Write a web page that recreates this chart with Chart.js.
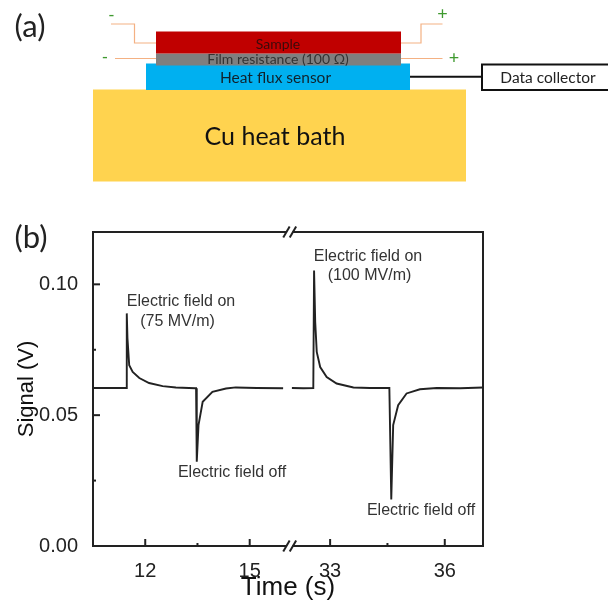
<!DOCTYPE html>
<html><head><meta charset="utf-8">
<style>html,body{margin:0;padding:0;background:#fff}canvas{display:block}</style>
<script src="https://cdn.jsdelivr.net/npm/chart.js@4"></script>
</head><body><canvas id="c" width="608" height="603"></canvas>
<script>
const timeFirst = [10.5,11.0,11.45,11.47,11.49,11.54,11.64,11.83,12.11,12.5,12.88,13.44,13.46,13.48,13.53,13.65,13.93,14.32,14.6,15.2,15.96];
const signalFirst = [.0604,.0604,.0604,.0889,.0794,.0691,.0665,.0642,.0623,.0611,.0606,.0603,.0603,.0322,.0462,.0551,.0589,.0602,.0606,.0604,.0603];
const timeSecond = [32.0,32.3,32.56,32.58,32.61,32.65,32.74,32.91,33.17,33.61,34.04,34.55,34.56,34.6,34.65,34.78,35.0,35.35,35.79,36.4,37.0];
const signalSecond = [.0604,.0603,.0604,.1053,.0856,.0742,.0684,.0646,.0621,.0606,.0604,.0604,.0604,.0178,.0462,.0538,.0583,.0599,.0604,.0603,.0606];
const xTicks = [12,13.5,15,33,34.5,36];
const xLabelled = [12,15,33,36];
const yTicks = [0,.025,.05,.075,.1];
const yLabelled = [0,.05,.1];
const xTitle = 'Time (s)';
const yTitle = 'Signal (V)';
const panelLabels = ['(a)','(b)'];
const noteOn75 = ['Electric field on','(75 MV/m)'];
const noteOn100 = ['Electric field on','(100 MV/m)'];
const noteOff = 'Electric field off';
const layerLabels = ['Sample','Film resistance (100 Ω)','Heat flux sensor','Cu heat bath','Data collector'];

const INK='#222', TXT='#333';
const BR_A=16.1, BR_B=32, D_A=.5, D_B=.51;

class BrokenScale extends Chart.LinearScale {
  static id='broken';
  static defaults=Chart.LinearScale.defaults;
  getPixelForValue(v){
    if(v===null||isNaN(v))return NaN;
    let d;
    if(v<=BR_A) d=(v-this.min)/(BR_A-this.min)*D_A;
    else if(v>=BR_B) d=D_B+(v-BR_B)/(this.max-BR_B)*(1-D_B);
    else d=D_A+(v-BR_A)/(BR_B-BR_A)*(D_B-D_A);
    return this.getPixelForDecimal(d);
  }
}
Chart.register(BrokenScale);

const zip=(a,b)=>a.map((x,i)=>({x,y:b[i]}));

function text(ctx,s,x,y,font,color,align){
  ctx.font=font;ctx.fillStyle=color;ctx.textAlign=align||'center';ctx.textBaseline='middle';ctx.fillText(s,x,y);
}
function wire(ctx,pts,color){
  ctx.strokeStyle=color;ctx.lineWidth=1.2;ctx.beginPath();
  pts.forEach((p,i)=>i?ctx.lineTo(p[0],p[1]):ctx.moveTo(p[0],p[1]));ctx.stroke();
}
const schematic={id:'schematic',beforeDraw(chart){
  const c=chart.ctx;c.save();
  c.fillStyle='#FFD34F';c.fillRect(93,89.5,373,92);
  c.fillStyle='#00B0F0';c.fillRect(146,63.5,264,26.5);
  c.fillStyle='#7F7F7F';c.fillRect(156,53.5,245,12);
  c.fillStyle='#C00000';c.fillRect(156,31.5,245,22);
  const w='#F4B183';
  wire(c,[[111,24],[134.5,24],[134.5,43],[156,43]],w);
  wire(c,[[401,43],[421,43],[421,24],[442.5,24]],w);
  wire(c,[[115,58.5],[156,58.5]],w);
  wire(c,[[401,58.5],[442.5,58.5]],w);
  c.strokeStyle='#111';c.lineWidth=2;
  c.beginPath();c.moveTo(410,76.7);c.lineTo(482,76.7);c.stroke();
  c.strokeRect(482,64.5,130,25.5);
  const g='#3f9a2f', F='Lato, "Open Sans", sans-serif';
  text(c,'-',111.5,16,'17px '+F,g);
  text(c,'+',442.5,14,'18px '+F,g);
  text(c,'-',105,58,'17px '+F,g);
  text(c,'+',454,58,'18px '+F,g);
  text(c,layerLabels[0],278,44,'14px '+F,'#3a0a0a');
  text(c,layerLabels[1],278,59.5,'14px '+F,'#333');
  text(c,layerLabels[2],275.5,77.5,'15.5px '+F,'#10222c');
  text(c,layerLabels[3],275,136.5,'25px '+F,'#111');
  text(c,layerLabels[4],548,77.5,'15.5px '+F,'#222');
  text(c,panelLabels[0],30,27,'31px '+F,'#222');
  text(c,panelLabels[1],31,238,'31px '+F,'#222');
  c.restore();
}};
const frame={id:'frame',afterDatasetsDraw(chart){
  const c=chart.ctx,a=chart.chartArea,sx=chart.scales.x,sy=chart.scales.y;
  c.save();c.strokeStyle=INK;c.lineWidth=2;c.lineCap='butt';
  c.strokeRect(a.left,a.top,a.right-a.left,a.bottom-a.top);
  xTicks.forEach(v=>{const p=sx.getPixelForValue(v),l=xLabelled.includes(v)?7:3;
    c.beginPath();c.moveTo(p,a.bottom);c.lineTo(p,a.bottom-l);c.stroke();});
  yTicks.forEach(v=>{if(v===0)return;const p=sy.getPixelForValue(v),l=yLabelled.includes(v)?7:3;
    c.beginPath();c.moveTo(a.left,p);c.lineTo(a.left+l,p);c.stroke();});
  const bx=(sx.getPixelForValue(BR_A)+sx.getPixelForValue(BR_B))/2;
  [a.top,a.bottom].forEach(y=>{
    c.fillStyle='#fff';c.fillRect(bx-3.5,y-1.5,6,3);
    [-3.5,3].forEach(o=>{c.beginPath();c.moveTo(bx+o-3.2,y+5.5);c.lineTo(bx+o+3.2,y-5.5);c.stroke();});
  });
  const N='16px "Liberation Sans", Arial, sans-serif';
  text(c,noteOn75[0],181,301.5,N,TXT);
  text(c,noteOn75[1],177.5,321.5,N,TXT);
  text(c,noteOn100[0],368,256.5,N,TXT);
  text(c,noteOn100[1],369.5,275.5,N,TXT);
  text(c,noteOff,232,473,N,TXT);
  text(c,noteOff,421,510.5,N,TXT);
  c.restore();
}};
const line={borderColor:INK,borderWidth:1.9,pointRadius:0,showLine:true,tension:0,fill:false,borderJoinStyle:'miter'};
new Chart(document.getElementById('c'),{
  type:'scatter',
  data:{datasets:[
    Object.assign({data:zip(timeFirst,signalFirst)},line),
    Object.assign({data:zip(timeSecond,signalSecond)},line)
  ]},
  plugins:[schematic,frame],
  options:{
    responsive:false,animation:false,devicePixelRatio:1,
    layout:{padding:{top:232,right:125,left:0,bottom:0}},
    plugins:{legend:{display:false},tooltip:{enabled:false}},
    scales:{
      x:{type:'broken',axis:'x',min:10.5,max:37,
        afterFit(s){s.height=57;},
        afterBuildTicks(s){s.ticks=xTicks.map(value=>({value}));},
        grid:{display:false},border:{display:false},
        ticks:{autoSkip:false,maxRotation:0,padding:5,color:INK,font:{size:20,family:'"Liberation Sans", Arial, sans-serif'},
          callback:v=>xLabelled.includes(v)?String(v):''},
        title:{display:true,text:xTitle,color:'#111',padding:{top:0,bottom:0},font:{size:26,family:'"Liberation Sans", Arial, sans-serif'}}
      },
      y:{type:'linear',min:0,max:.12,
        afterFit(s){s.width=93;},
        afterBuildTicks(s){s.ticks=yTicks.map(value=>({value}));},
        grid:{display:false},border:{display:false},
        ticks:{autoSkip:false,padding:7,color:INK,font:{size:20,family:'"Liberation Sans", Arial, sans-serif'},
          callback:v=>yLabelled.includes(v)?v.toFixed(2):''},
        title:{display:true,text:yTitle,color:'#111',padding:{top:14,bottom:0},font:{size:22,family:'"Liberation Sans", Arial, sans-serif'}}
      }
    }
  }
});
</script></body></html>
